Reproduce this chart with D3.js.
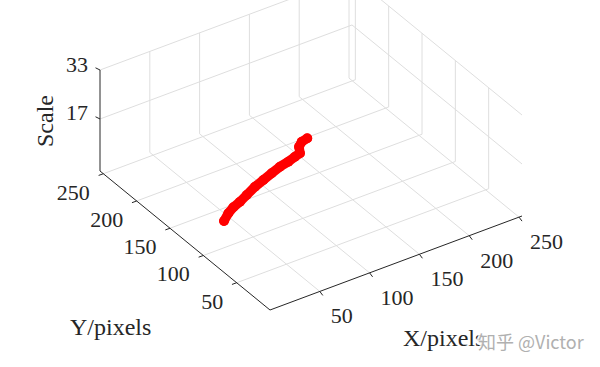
<!DOCTYPE html>
<html>
<head>
<meta charset="utf-8">
<script src="https://cdn.jsdelivr.net/npm/d3@7/dist/d3.min.js"></script>
<style>
  html, body { margin: 0; padding: 0; background: #fff; }
  svg { display: block; }
</style>
</head>
<body>
<svg id="chart" width="600" height="367"></svg>
<script>
// ---- data ----
const xTicks = [50, 100, 150, 200, 250];
const yTicks = [50, 100, 150, 200, 250];
const zTicks = [17, 33];
const xLim = [0, 253];
const yLim = [0, 255];
const zLim = [0, 33];
// trajectory: X position (pixels), Y position (pixels), scale index
const trackX = [20.1, 29.6, 38.1, 47.4, 55.1, 67.8, 81.8, 90.6, 101.9, 111.9, 118.1, 124.4, 131.9, 135.4, 142.1];
const trackY = [99.0, 106.7, 111.9, 115.8, 117.3, 123.8, 132.2, 132.9, 137.3, 139.7, 139.0, 140.9, 153.5, 154.7, 156.4];
const trackZ = [9, 9, 9, 9, 10, 10, 9, 10, 10, 10, 11, 11, 10, 11, 11];
const xLabel = "X/pixels", yLabel = "Y/pixels", zLabel = "Scale";

// ---- projection (orthographic view of the 3-D box) ----
const svg = d3.select("#chart");
const xs = d3.scaleLinear().domain(xLim).range([0, 1]);
const ys = d3.scaleLinear().domain(yLim).range([0, 1]);
const zs = d3.scaleLinear().domain(zLim).range([0, 1]);
const O = [270, 310], EX = [252, -94], EY = [-170, -139], EZ = [0, -101];
function P(x, y, z) {
  const u = xs(x), v = ys(y), w = zs(z);
  return [O[0] + u * EX[0] + v * EY[0] + w * EZ[0],
          O[1] + u * EX[1] + v * EY[1] + w * EZ[1]];
}
const gridColor = "#dedede", axisColor = "#262626", font = "'Liberation Serif', 'Times New Roman', serif";

const gGrid = svg.append("g").attr("fill", "none").attr("stroke", gridColor).attr("stroke-width", 1);
function seg(g, a, b, color) {
  g.append("line").attr("x1", a[0]).attr("y1", a[1]).attr("x2", b[0]).attr("y2", b[1])
    .attr("stroke", color || null);
}
const [x0, x1] = xLim, [y0, y1] = yLim, [z0, z1] = zLim;
// floor grid
xTicks.forEach(t => seg(gGrid, P(t, y0, z0), P(t, y1, z0)));
yTicks.forEach(t => seg(gGrid, P(x0, t, z0), P(x1, t, z0)));
// back wall y = ymax
xTicks.forEach(t => seg(gGrid, P(t, y1, z0), P(t, y1, z1)));
zTicks.forEach(t => seg(gGrid, P(x0, y1, t), P(x1, y1, t)));
// back wall x = xmax
yTicks.forEach(t => seg(gGrid, P(x1, t, z0), P(x1, t, z1)));
zTicks.forEach(t => seg(gGrid, P(x1, y0, t), P(x1, y1, t)));

// axes
const gAx = svg.append("g").attr("stroke", axisColor).attr("stroke-width", 1).attr("fill", "none");
seg(gAx, P(x0, y0, z0), P(x1, y0, z0));
seg(gAx, P(x0, y0, z0), P(x0, y1, z0));
seg(gAx, P(x0, y1, z0), P(x0, y1, z1));
// ticks
xTicks.forEach(t => { const p = P(t, y0, z0); seg(gAx, p, [p[0] + 3, p[1] + 4]); });
yTicks.forEach(t => { const p = P(x0, t, z0); seg(gAx, p, [p[0] - 4.7, p[1] + 1.7]); });
zTicks.forEach(t => { const p = P(x0, y1, t); seg(gAx, p, [p[0] - 4.5, p[1] - 2.2]); });

// tick labels
const gT = svg.append("g").attr("font-family", font).attr("font-size", 22).attr("fill", axisColor);
xTicks.forEach(t => { const p = P(t, y0, z0);
  gT.append("text").attr("x", p[0] + 11).attr("y", p[1] + 32).attr("text-anchor", "start").text(t); });
yTicks.forEach(t => { const p = P(x0, t, z0);
  gT.append("text").attr("x", p[0] - 13.5).attr("y", p[1] + 26).attr("text-anchor", "end").text(t); });
zTicks.forEach(t => { const p = P(x0, y1, t);
  gT.append("text").attr("x", p[0] - 12).attr("y", p[1] + 1.5).attr("text-anchor", "end").text(t); });

// axis labels
const gL = svg.append("g").attr("font-family", font).attr("font-size", 24).attr("fill", axisColor);
gL.append("text").attr("x", 70).attr("y", 335).text(yLabel);
gL.append("text").attr("x", 403).attr("y", 346).text(xLabel);
gL.append("text").attr("transform", "translate(53,121) rotate(-90)").attr("text-anchor", "middle").text(zLabel);

// data: trajectory drawn as dense red markers
const pts = trackX.map((x, i) => P(x, trackY[i], trackZ[i]));
const gD = svg.append("g");
gD.append("path").attr("d", d3.line().curve(d3.curveLinear)(pts))
  .attr("fill", "none").attr("stroke", "#ff0000").attr("stroke-width", 9.5)
  .attr("stroke-linecap", "round").attr("stroke-linejoin", "round");
gD.selectAll("circle").data(pts).join("circle")
  .attr("cx", d => d[0]).attr("cy", d => d[1]).attr("r", 5).attr("fill", "#ff0000");

// watermark
svg.append("text").attr("x", 478).attr("y", 349)
  .attr("font-family", "'Noto Sans CJK SC', 'Noto Sans', sans-serif").attr("font-size", 18)
  .attr("fill", "#b0b0b0").attr("stroke", "#ffffff").attr("stroke-width", 4)
  .attr("stroke-opacity", 0.85).attr("paint-order", "stroke")
  .text("知乎 @Victor");
</script>
</body>
</html>
